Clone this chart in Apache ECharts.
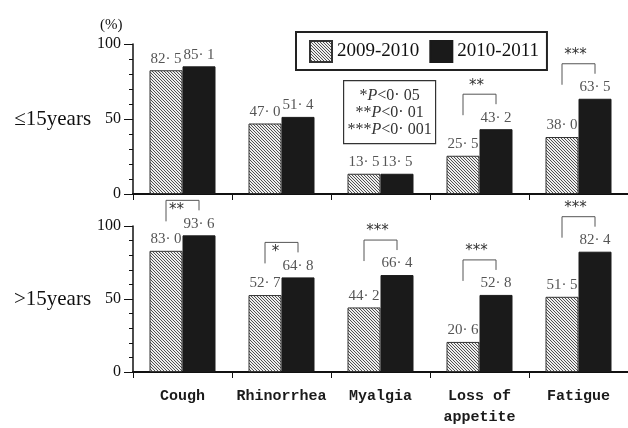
<!DOCTYPE html>
<html><head><meta charset="utf-8">
<script src="https://cdn.jsdelivr.net/npm/echarts@6/dist/echarts.min.js"></script>
<style>html,body{margin:0;padding:0;background:#fff}#c{width:628px;height:428px}</style>
</head><body><div id="c"></div>
<script>
const categories = ['Cough', 'Rhinorrhea', 'Myalgia', 'Loss of\nappetite', 'Fatigue'];
const seasons = ['2009-2010', '2010-2011'];
const young0910 = [82.5, 47.0, 13.5, 25.5, 38.0];
const young1011 = [85.1, 51.4, 13.5, 43.2, 63.5];
const old0910 = [83.0, 52.7, 44.2, 20.6, 51.5];
const old1011 = [93.6, 64.8, 66.4, 52.8, 82.4];
const sigYoung = ['', '', '', '**', '***'];
const sigOld = ['**', '*', '***', '***', '***'];
const groupNames = ['≤15years', '>15years'];
const yMin = 0, yMax = 100, yStep = 50;
const pLines = ['*', '**', '***'];
const pValues = ['0· 05', '0· 01', '0· 001'];

function hatch() {
  const c = document.createElement('canvas');
  c.width = 3; c.height = 3;
  const g = c.getContext('2d');
  g.fillStyle = '#eeeeee'; g.fillRect(0, 0, 3, 3);
  g.fillStyle = '#505050';
  for (let i = 0; i < 3; i++) g.fillRect(i, i, 1, 1);
  return c;
}
const hatchFill = { image: hatch(), repeat: 'repeat' };
const serif = "'Liberation Serif', 'DejaVu Serif', serif";
const fmt = p => p.value.toFixed(1).replace('.', '· ');

function barSeries(name, data, idx, hatched) {
  return {
    name, type: 'bar', data, xAxisIndex: idx, yAxisIndex: idx,
    barWidth: 33, barGap: '0%',
    itemStyle: hatched ? { color: hatchFill, borderColor: '#333', borderWidth: 1 } : { color: '#1a1a1a', borderColor: '#1a1a1a', borderWidth: 1 },
    label: { show: true, position: 'top', distance: 4, formatter: fmt, color: '#555', fontFamily: serif, fontSize: 15 }
  };
}

function sigSeries(a, b, sig, idx, inside) {
  const items = [], stars = [];
  sig.forEach((s, i) => { if (s) { items.push([i, a[i], b[i]]); stars.push(s); } });
  return {
    type: 'custom', xAxisIndex: idx, yAxisIndex: idx, data: items, silent: true, z: 5,
    renderItem: (params, api) => {
      const c = api.value(0);
      const top = Math.max(api.value(1), api.value(2));
      const p = api.coord([c, top]);
      const w = api.size([1, 0])[0];
      const xl = p[0] - w / 6, xr = p[0] + w / 6;
      const yH = p[1] - 35;
      const s = stars[params.dataIndex];
      const isIn = inside.indexOf(c) >= 0;
      return {
        type: 'group', children: [
          { type: 'polyline', shape: { points: [[xl, yH + 21], [xl, yH], [xr, yH], [xr, yH + 10]] },
            style: { stroke: '#555', lineWidth: 1, fill: null } },
          { type: 'text', style: {
              text: s, x: isIn ? p[0] - 6 : p[0] - 3, y: isIn ? yH + 2 : yH - 1,
              font: "15px 'DejaVu Sans', sans-serif", fill: '#333',
              align: 'center', verticalAlign: isIn ? 'top' : 'bottom',
              textAlign: 'center', textVerticalAlign: isIn ? 'top' : 'bottom' } }
        ]
      };
    }
  };
}

function yAxisOf(idx, name) {
  return {
    type: 'value', gridIndex: idx, min: yMin, max: yMax, interval: yStep,
    name, nameLocation: 'middle', nameRotate: 0, nameGap: 37,
    nameTextStyle: { fontFamily: serif, fontSize: 21, color: '#111' },
    axisLine: { show: true, lineStyle: { color: '#111', width: 1.5 } },
    axisTick: { show: true, length: 9, lineStyle: { color: '#111', width: 1 } },
    minorTick: { show: true, splitNumber: 5, length: 4, lineStyle: { color: '#111', width: 1 } },
    axisLabel: { fontFamily: serif, fontSize: 16, color: '#111', margin: 12 },
    splitLine: { show: false }
  };
}
function xAxisOf(idx, labels) {
  return {
    type: 'category', gridIndex: idx, data: categories, boundaryGap: true,
    axisLine: { lineStyle: { color: '#111', width: 2 } },
    axisTick: { show: true, length: 6, alignWithLabel: false, lineStyle: { color: '#111', width: 1 } },
    axisLabel: { show: labels, interval: 0, margin: 14, fontFamily: "'Liberation Mono', 'DejaVu Sans Mono', monospace",
      fontSize: 15, fontWeight: 'bold', color: '#1a1a1a', lineHeight: 21 }
  };
}

const chart = echarts.init(document.getElementById('c'), null, { renderer: 'canvas' });
const option = {
  animation: false,
  backgroundColor: '#fff',
  grid: [
    { left: 133, right: 0, top: 44, height: 150 },
    { left: 133, right: 0, top: 226, height: 152 }
  ],
  legend: {
    data: seasons, left: 296, top: 32, padding: [8, 8, 7, 13], itemGap: 10,
    itemWidth: 22, itemHeight: 21, icon: 'rect',
    borderColor: '#222', borderWidth: 2,
    textStyle: { fontFamily: serif, fontSize: 19, color: '#111' }
  },
  xAxis: [xAxisOf(0, false), xAxisOf(1, true)],
  yAxis: [yAxisOf(0, groupNames[0]), yAxisOf(1, groupNames[1])],
  graphic: [
    { type: 'text', left: 100, top: 18, style: { text: '(%)', fontFamily: serif, fontSize: 15, fill: '#111' } },
    {
      type: 'group', left: 343, top: 80, children: [
        { type: 'rect', shape: { x: 0, y: 0, width: 92, height: 63 }, style: { fill: '#fff', stroke: '#333', lineWidth: 1.2 } },
        ...pLines.map((s, i) => ({
          type: 'text', x: 46, y: 15 + i * 17,
          style: {
            text: s + '{i|P}<' + pValues[i],
            rich: { i: { fontStyle: 'italic', fontFamily: serif, fontSize: 16, fill: '#333' } },
            fontFamily: serif, fontSize: 16, fill: '#333', align: 'center', verticalAlign: 'middle'
          }
        }))
      ]
    }
  ],
  series: [
    barSeries(seasons[0], young0910, 0, true),
    barSeries(seasons[1], young1011, 0, false),
    barSeries(seasons[0], old0910, 1, true),
    barSeries(seasons[1], old1011, 1, false),
    sigSeries(young0910, young1011, sigYoung, 0, []),
    sigSeries(old0910, old1011, sigOld, 1, [0, 1])
  ]
};
chart.setOption(option);
</script>
</body></html>
